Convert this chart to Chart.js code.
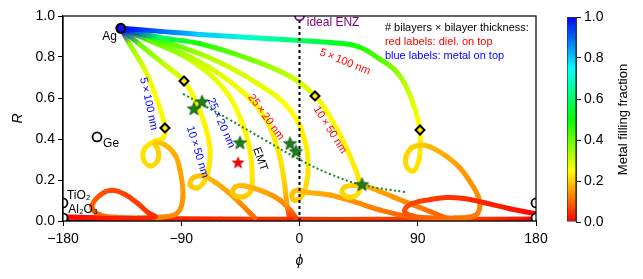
<!DOCTYPE html>
<html lang="en">
<head>
<meta charset="UTF-8" />
<title>Reflection phase vs reflectance</title>
<style>
  body { margin: 0; background: #fff; }
  #wrap { position: relative; width: 643px; height: 279px; }
  #main { position: absolute; left: 0; top: 0; }
  #cbar { position: absolute; left: 548px; top: 0; }
</style>
</head>
<body>
<div id="wrap">
  <canvas id="main" width="643" height="279"></canvas>
  <canvas id="cbar" width="87" height="279"></canvas>
</div>
<script src="https://cdn.jsdelivr.net/npm/chart.js"></script>
<script>
// --- sweeps from Ag (frac = 1) towards the dielectric (frac = 0) ---
// phase phi (deg), reflectance R, metal filling fraction along each curve

// 5 x 100 nm, dielectric on top
const r5Phi  = [-136, -106, -76, -38, 0, 25, 45, 61, 72, 80, 86, 90, 91.7, 92, 91, 87, 82, 81, 85, 92, 100, 112, 122, 130, 136, 137, 133, 118, 100, 86, 80, 86, 100, 112, 125, 140, 160, 180];
const r5R    = [0.94, 0.925, 0.91, 0.895, 0.88, 0.87, 0.85, 0.79, 0.74, 0.67, 0.58, 0.5, 0.44, 0.38, 0.30, 0.245, 0.26, 0.31, 0.355, 0.37, 0.36, 0.315, 0.26, 0.19, 0.12, 0.06, 0.025, 0.015, 0.015, 0.025, 0.05, 0.085, 0.105, 0.115, 0.11, 0.09, 0.06, 0.035];
const r5Frac = [1, 0.9, 0.8, 0.7, 0.6, 0.54, 0.48, 0.42, 0.37, 0.32, 0.28, 0.26, 0.245, 0.235, 0.225, 0.22, 0.215, 0.21, 0.205, 0.2, 0.18, 0.165, 0.155, 0.145, 0.14, 0.13, 0.12, 0.11, 0.1, 0.09, 0.075, 0.065, 0.055, 0.05, 0.045, 0.035, 0.02, 0];

// 10 x 50 nm, dielectric on top
const r10Phi  = [-136, -106, -76, -38, -7, 12, 23, 34, 42, 46, 44, 37, 32.5, 34.5, 42, 50, 61, 72, 84, 100, 114, 140, 180];
const r10R    = [0.94, 0.895, 0.865, 0.79, 0.705, 0.61, 0.51, 0.38, 0.26, 0.18, 0.13, 0.117, 0.14, 0.166, 0.174, 0.17, 0.145, 0.115, 0.085, 0.045, 0.012, 0.006, 0.005];
const r10Frac = [1, 0.6, 0.48, 0.38, 0.31, 0.27, 0.25, 0.24, 0.23, 0.225, 0.22, 0.215, 0.21, 0.205, 0.2, 0.18, 0.16, 0.15, 0.13, 0.11, 0.09, 0.05, 0];

// 25 x 20 nm, dielectric on top
const r25Phi  = [-136, -110, -68, -30, -7, 4, 6.5, 4, 0.4, -4.2, -5.7, -1.1, 4.2, 23, 42, 61, 84, 114, 180];
const r25R    = [0.94, 0.89, 0.795, 0.663, 0.541, 0.395, 0.249, 0.151, 0.112, 0.102, 0.132, 0.151, 0.141, 0.127, 0.093, 0.054, 0.02, 0.006, 0.004];
const r25Frac = [1, 0.45, 0.32, 0.27, 0.25, 0.235, 0.225, 0.21, 0.2, 0.195, 0.19, 0.185, 0.18, 0.16, 0.14, 0.12, 0.09, 0.05, 0];

// effective medium theory
const emtPhi  = [-136, -114, -76, -45, -26, -16.4, -11.8, -9.5, -7.2];
const emtR    = [0.94, 0.883, 0.776, 0.639, 0.5, 0.346, 0.2, 0.078, 0.005];
const emtFrac = [1, 0.42, 0.3, 0.26, 0.24, 0.23, 0.21, 0.15, 0.03];

// 25 x 20 nm, metal on top
const b25Phi  = [-136, -118, -83, -57, -45, -37.7, -36, -37.7, -44, -50.7, -49, -41.5, -26.3, -14.8, -7.2, -2.7];
const b25R    = [0.94, 0.89, 0.785, 0.64, 0.5, 0.346, 0.2, 0.141, 0.117, 0.132, 0.166, 0.171, 0.141, 0.102, 0.054, 0.015];
const b25Frac = [1, 0.42, 0.3, 0.26, 0.245, 0.235, 0.225, 0.21, 0.2, 0.195, 0.19, 0.18, 0.16, 0.14, 0.11, 0.06];

// 10 x 50 nm, metal on top
const b10Phi  = [-136, -121.4, -102.4, -87.9, -79.5, -72, -68, -69.6, -72.7, -78, -83.3, -81, -74.2, -64.3, -54.4, -45.3, -37.7, -33.9];
const b10R    = [0.94, 0.86, 0.761, 0.683, 0.59, 0.468, 0.346, 0.239, 0.19, 0.161, 0.176, 0.21, 0.22, 0.19, 0.141, 0.088, 0.039, 0.015];
const b10Frac = [1, 0.4, 0.31, 0.27, 0.25, 0.24, 0.235, 0.225, 0.215, 0.205, 0.2, 0.195, 0.19, 0.17, 0.16, 0.14, 0.12, 0.1];

// 5 x 100 nm, metal on top
const b5Phi  = [-136, -129, -117.6, -108.4, -102.4, -103.9, -110, -117.6, -119, -113.8, -107.7, -107.7, -110, -102.4, -94.7, -91, -88.7, -93, -106, -122, -140, -152, -158, -152, -143, -133, -123, -115, -110, -130, -160, -180];
const b5R    = [0.94, 0.86, 0.737, 0.59, 0.454, 0.405, 0.39, 0.356, 0.307, 0.268, 0.298, 0.346, 0.38, 0.371, 0.322, 0.249, 0.117, 0.039, 0.018, 0.015, 0.018, 0.03, 0.07, 0.125, 0.15, 0.13, 0.085, 0.04, 0.02, 0.012, 0.015, 0.02];
const b5Frac = [1, 0.36, 0.28, 0.25, 0.24, 0.235, 0.23, 0.225, 0.22, 0.215, 0.21, 0.205, 0.2, 0.185, 0.17, 0.16, 0.15, 0.14, 0.13, 0.12, 0.11, 0.1, 0.09, 0.08, 0.07, 0.065, 0.06, 0.05, 0.04, 0.03, 0.02, 0];

// thin-stack limit along the bottom
const basePhi  = [-180, -120, -60, 0, 60, 120, 180];
const baseR    = [0.02, 0.012, 0.01, 0.008, 0.008, 0.008, 0.01];
const baseFrac = [0.02, 0.03, 0.04, 0.05, 0.06, 0.05, 0.03];

// markers
const agPhi = [-136], agR = [0.94];
const diamondPhi = [-102.4, -87.9, 11.8, 91.7];
const diamondR   = [0.454, 0.683, 0.61, 0.444];
const starPhi = [-74.2, -80.3, -45.3, -7.2, -2.7, 47.6];
const starR   = [0.58, 0.546, 0.38, 0.376, 0.337, 0.176];
const redStarPhi = [-46.8], redStarR = [0.283];
const refPhi = [-154.1, -180, -180, 180, 180];   // Ge, TiO2, Al2O3
const refR   = [0.41, 0.088, 0.015, 0.088, 0.015];
const enzPhi = [0], enzR = [1.0];
const emtLinePhi = [-88.7, -52.9, -26.3, 0.4, 23.2, 47.6, 80.3];
const emtLineR   = [0.62, 0.493, 0.395, 0.298, 0.229, 0.176, 0.141];

const pts = (xs, ys) => xs.map((x, i) => ({ x: x, y: ys[i] }));
const fracColor = f => 'hsl(' + (240 * Math.max(0, Math.min(1, f))) + ',100%,50%)';
const FONT = '"Liberation Sans", Arial, sans-serif';

function segColor(ctx) {
  const ds = ctx.chart.data.datasets[ctx.datasetIndex];
  const g = ctx.chart.ctx.createLinearGradient(ctx.p0.x, ctx.p0.y, ctx.p1.x, ctx.p1.y);
  g.addColorStop(0, fracColor(ds.frac[ctx.p0DataIndex]));
  g.addColorStop(1, fracColor(ds.frac[ctx.p1DataIndex]));
  return g;
}

function sweep(xs, ys, fr) {
  return {
    data: pts(xs, ys), frac: fr, showLine: true, pointRadius: 0,
    borderWidth: 5, tension: 0.4, borderCapStyle: 'round', borderJoinStyle: 'round',
    borderColor: fracColor(fr[0]), segment: { borderColor: segColor }
  };
}

function starImage(fill, edge, r) {
  const c = document.createElement('canvas');
  c.width = c.height = Math.ceil(r * 2 + 3);
  const g = c.getContext('2d');
  g.translate(c.width / 2, c.height / 2);
  g.beginPath();
  for (let i = 0; i < 10; i++) {
    const rr = i % 2 ? r * 0.42 : r;
    const a = -Math.PI / 2 + i * Math.PI / 5;
    g.lineTo(rr * Math.cos(a), rr * Math.sin(a));
  }
  g.closePath();
  g.fillStyle = fill; g.fill();
  g.strokeStyle = edge; g.lineWidth = 0.8; g.stroke();
  return c;
}

Chart.defaults.font.family = FONT;
Chart.defaults.color = '#000';

const nm = (a, b) => a + '\u2009×\u2009' + b + ' nm';
const notes = [
  { t: 'Ag', x: -139, y: 0.90, c: '#000', s: 12, al: 'right' },
  { t: 'Ge', x: -149.5, y: 0.375, c: '#000', s: 12, al: 'left' },
  { t: 'TiO₂', x: -177, y: 0.125, c: '#000', s: 12, al: 'left' },
  { t: 'Al₂O₃', x: -176, y: 0.055, c: '#000', s: 12, al: 'left' },
  { t: 'ideal ENZ', x: 5.5, y: 0.965, c: '#800080', s: 12, al: 'left' },
  { t: '# bilayers × bilayer thickness:', x: 65, y: 0.94, c: '#000', s: 11, al: 'left' },
  { t: 'red labels: diel. on top', x: 65, y: 0.873, c: '#ff0000', s: 11, al: 'left' },
  { t: 'blue labels: metal on top', x: 65, y: 0.805, c: '#0000ff', s: 11, al: 'left' },
  { t: nm(5, 100), x: -114.8, y: 0.571, c: '#0000ff', s: 11, a: 78 },
  { t: nm(10, 50), x: -77.6, y: 0.337, c: '#0000ff', s: 11, a: 73 },
  { t: nm(25, 20), x: -59.7, y: 0.478, c: '#0000ff', s: 11, a: 66 },
  { t: nm(25, 20), x: -25.5, y: 0.507, c: '#ff0000', s: 11, a: 54 },
  { t: nm(10, 50), x: 23.2, y: 0.444, c: '#ff0000', s: 11, a: 58 },
  { t: nm(5, 100), x: 34.6, y: 0.776, c: '#ff0000', s: 11, a: 22 },
  { t: 'EMT', x: -30, y: 0.302, c: '#000', s: 11.5, a: 70 }
];

const labelPlugin = {
  id: 'labels',
  afterDatasetsDraw(chart) {
    const { ctx, chartArea: a, scales: { x, y } } = chart;
    ctx.save();
    ctx.strokeStyle = '#000';
    ctx.lineWidth = 1.2;
    ctx.strokeRect(a.left, a.top, a.right - a.left, a.bottom - a.top);
    notes.forEach(n => {
      ctx.save();
      ctx.translate(x.getPixelForValue(n.x), y.getPixelForValue(n.y));
      ctx.rotate((n.a || 0) * Math.PI / 180);
      ctx.font = n.s + 'px ' + FONT;
      ctx.fillStyle = n.c;
      ctx.textAlign = n.al || 'center';
      ctx.textBaseline = 'middle';
      ctx.fillText(n.t, 0, 0);
      ctx.restore();
    });
    ctx.restore();
  }
};

const greenStar = starImage('#1a821a', '#0a4a0a', 7);
const redStar = starImage('#ff0000', '#b00000', 6);

new Chart(document.getElementById('main'), {
  type: 'scatter',
  data: {
    datasets: [
      { data: pts(starPhi, starR), pointStyle: greenStar, pointRadius: 6 },
      { data: pts(redStarPhi, redStarR), pointStyle: redStar, pointRadius: 6 },
      { data: pts(diamondPhi, diamondR), pointStyle: 'rectRot', pointRadius: 4.5, backgroundColor: '#ffe800', borderColor: '#000', borderWidth: 2 },
      { data: pts(agPhi, agR), pointRadius: 4.5, backgroundColor: '#1010e0', borderColor: '#000', borderWidth: 2 },
      { data: pts(refPhi, refR), pointRadius: 4.5, backgroundColor: '#fff', borderColor: '#000', borderWidth: 1.8 },
      { data: pts(enzPhi, enzR), pointRadius: 4.5, backgroundColor: '#fff', borderColor: '#800080', borderWidth: 1.8 },
      { data: pts([0, 0], [0, 1]), showLine: true, pointRadius: 0, borderColor: '#000', borderWidth: 2, borderDash: [3, 3] },
      { data: pts(emtLinePhi, emtLineR), showLine: true, pointRadius: 0, borderColor: '#138a13', borderWidth: 2, borderDash: [2, 2.5], tension: 0.4 },
      sweep(r5Phi, r5R, r5Frac),
      sweep(r10Phi, r10R, r10Frac),
      sweep(r25Phi, r25R, r25Frac),
      sweep(emtPhi, emtR, emtFrac),
      sweep(b25Phi, b25R, b25Frac),
      sweep(b10Phi, b10R, b10Frac),
      sweep(b5Phi, b5R, b5Frac),
      sweep(basePhi, baseR, baseFrac)
    ]
  },
  options: {
    responsive: false,
    animation: false,
    layout: { padding: { left: 0, right: 107, top: 16, bottom: 0 } },
    plugins: { legend: { display: false }, tooltip: { enabled: false } },
    scales: {
      x: {
        type: 'linear', min: -180, max: 180,
        ticks: { stepSize: 90, maxRotation: 0, font: { size: 14 }, padding: 5,
                 callback: v => String(v).replace('-', '−') },
        grid: { drawOnChartArea: false, tickLength: 5, color: '#000' },
        border: { display: true, color: '#000', width: 1.2 },
        title: { display: true, text: 'ϕ', font: { size: 14, style: 'italic' }, padding: { top: 0, bottom: 9 } },
        afterFit: s => { s.height = 58; }
      },
      y: {
        min: 0, max: 1,
        ticks: { stepSize: 0.2, font: { size: 14 }, padding: 3, callback: v => v.toFixed(1) },
        grid: { drawOnChartArea: false, tickLength: 5, color: '#000' },
        border: { display: true, color: '#000', width: 1.2 },
        title: { display: true, text: 'R', font: { size: 14, style: 'italic' }, padding: { top: 10, bottom: 0 } },
        afterFit: s => { s.width = 63; }
      }
    }
  },
  plugins: [labelPlugin]
});

// colour bar, title reads bottom to top
const cbarTitle = {
  id: 'cbarTitle',
  afterDraw(chart) {
    const { ctx, chartArea: a } = chart;
    ctx.save();
    ctx.translate(75, (a.top + a.bottom) / 2);
    ctx.rotate(-Math.PI / 2);
    ctx.font = '13px ' + FONT;
    ctx.fillStyle = '#000';
    ctx.textAlign = 'center';
    ctx.textBaseline = 'middle';
    ctx.fillText('Metal filling fraction', 0, 0);
    ctx.restore();
  }
};

new Chart(document.getElementById('cbar'), {
  type: 'bar',
  data: {
    labels: [''],
    datasets: [{
      data: [[0, 1]],
      backgroundColor: ctx => {
        const a = ctx.chart.chartArea;
        if (!a) return fracColor(0.5);
        const g = ctx.chart.ctx.createLinearGradient(0, a.bottom, 0, a.top);
        for (let i = 0; i <= 12; i++) g.addColorStop(i / 12, fracColor(i / 12));
        return g;
      },
      borderColor: '#333', borderWidth: 1, borderSkipped: false,
      barPercentage: 1, categoryPercentage: 1
    }]
  },
  options: {
    responsive: false,
    animation: false,
    layout: { padding: { left: 19, right: 0, top: 17, bottom: 57 } },
    plugins: { legend: { display: false }, tooltip: { enabled: false } },
    scales: {
      x: { display: false },
      y: {
        position: 'right', min: 0, max: 1,
        ticks: { stepSize: 0.2, font: { size: 14 }, padding: 3, callback: v => v.toFixed(1) },
        grid: { drawOnChartArea: false, tickLength: 5, color: '#000' },
        border: { display: true, color: '#333' },
        afterFit: s => { s.width = 59; }
      }
    }
  },
  plugins: [cbarTitle]
});
</script>
</body>
</html>
